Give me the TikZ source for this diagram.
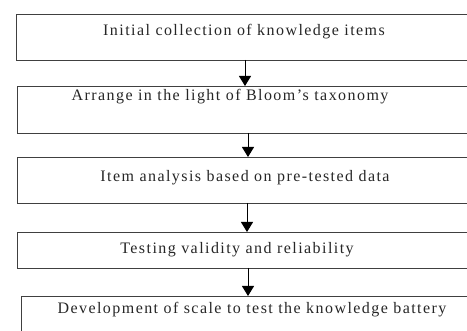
\documentclass[tikz,border=0pt]{standalone}
\usepackage{fontspec}
\setmainfont{Liberation Serif}[LetterSpace=9]
\usetikzlibrary{arrows.meta}
\tikzset{
  stepbox/.style={draw=black!75, line width=0.9pt, inner sep=0pt},
  label text/.style={font=\fontsize{16}{19}\selectfont, inner sep=0pt, text=black!85},
  arr/.style={draw=black, line width=1pt, -{Triangle[length=10pt,width=12pt]}}
}
\begin{document}
\begin{tikzpicture}[x=1pt, y=-1pt]
  \useasboundingbox (0,0) rectangle (467,331);
  \clip (0,0) rectangle (467,331);
  % process boxes (open to the right page edge)
  \draw[stepbox] (480,14) -- (16,14) -- (16,60) -- (480,60);
  \coordinate (b1n) at (245,14); \coordinate (b1s) at (245,60);
  \draw[stepbox] (480,86) -- (17,86) -- (17,133) -- (480,133);
  \coordinate (b2n) at (245,86); \coordinate (b2s) at (248,133);
  \draw[stepbox] (480,157) -- (17,157) -- (17,203) -- (480,203);
  \coordinate (b3n) at (248,157); \coordinate (b3s) at (247,203);
  \draw[stepbox] (480,232) -- (17,232) -- (17,268) -- (480,268);
  \coordinate (b4n) at (247,232); \coordinate (b4s) at (248,268);
  \draw[stepbox] (480,296) -- (21,296) -- (21,340);
  \coordinate (b5n) at (248,296);
  % labels
  \node[label text] (t1) at (244,32) {Initial collection of knowledge items};
  \node[label text] (t2) at (230,97) {Arrange in the light of Bloom's taxonomy};
  \node[label text] (t3) at (245,178) {Item analysis based on pre-tested data};
  \node[label text] (t4) at (237,250) {Testing validity and reliability};
  \node[label text] (t5) at (252,310) {Development of scale to test the knowledge battery};
  % connectors
  \draw[arr] (b1s) -- (b2n);
  \draw[arr] (b2s) -- (b3n);
  \draw[arr] (b3s) -- (b4n);
  \draw[arr] (b4s) -- (b5n);
\end{tikzpicture}
\end{document}
